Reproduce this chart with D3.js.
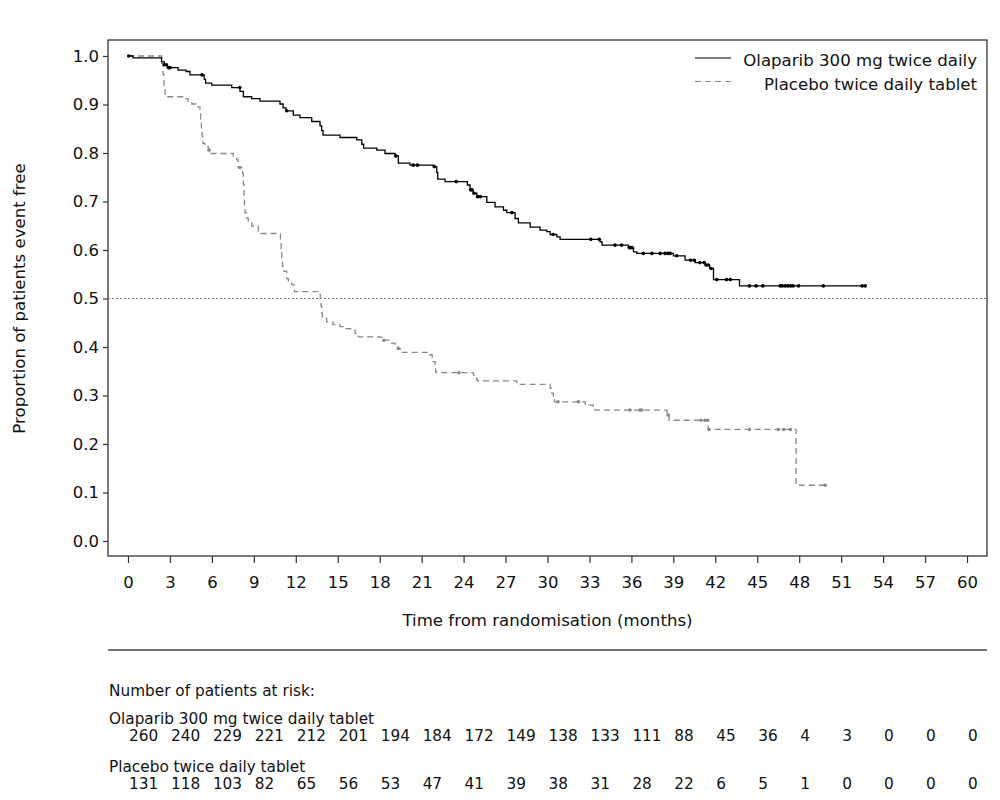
<!DOCTYPE html>
<html><head><meta charset="utf-8">
<script src="https://cdn.jsdelivr.net/npm/d3@7"></script>
<style>
body{margin:0;background:#fff}
text{font-family:"DejaVu Sans",Verdana,sans-serif;fill:#111}
</style></head>
<body><svg id="chart" width="1000" height="800"></svg>
<script>
// ---------------- data ----------------
const timeTicks = [0,3,6,9,12,15,18,21,24,27,30,33,36,39,42,45,48,51,54,57,60];
const propTicks = [0,0.1,0.2,0.3,0.4,0.5,0.6,0.7,0.8,0.9,1.0];
const seriesNames = ["Olaparib 300 mg twice daily","Placebo twice daily tablet"];
const riskLabels = ["Olaparib 300 mg twice daily tablet","Placebo twice daily tablet"];

const olaTimes = [0.36,2.4,2.6,2.8,3.58,4.15,4.43,5.45,5.55,5.99,7.42,8.01,8.25,8.85,9.44,10.87,11.09,11.3,11.82,12.3,13.14,13.73,13.85,13.95,15.16,16.36,16.72,16.85,17.79,18.38,19.1,19.33,20.17,21.85,22.08,22.15,22.67,24.27,24.46,24.68,24.94,25.66,26.25,26.85,27.09,27.68,27.92,28.76,29.47,29.95,30.19,30.67,30.9,33.76,33.9,35.79,36.15,36.39,39.0,39.84,40.56,41.27,41.6,41.87,43.73];
const olaSurv  = [0.996,0.988,0.982,0.976,0.971,0.968,0.961,0.952,0.944,0.940,0.935,0.927,0.916,0.912,0.907,0.901,0.893,0.887,0.878,0.873,0.865,0.856,0.846,0.837,0.832,0.827,0.818,0.810,0.806,0.799,0.794,0.779,0.775,0.772,0.760,0.746,0.741,0.734,0.724,0.717,0.710,0.698,0.689,0.682,0.677,0.665,0.656,0.647,0.641,0.638,0.632,0.627,0.622,0.617,0.610,0.605,0.596,0.593,0.588,0.579,0.574,0.569,0.562,0.539,0.526];
const olaCensor = [0.05,2.6,2.75,2.9,3.0,5.29,8.0,11.35,19.15,20.4,20.7,21.9,23.47,24.5,24.6,24.75,25.0,25.2,27.45,30.4,33.1,33.7,34.83,35.3,35.85,35.95,36.05,36.86,37.46,38.06,38.4,38.6,38.77,39.24,40.24,40.5,40.9,41.2,41.35,41.5,41.7,42.1,42.8,43.07,44.44,44.92,45.4,46.64,46.8,47.0,47.2,47.4,47.57,47.95,49.73,52.5,52.72];
const olaEnd = 52.8;

const plaTimes = [2.4,2.5,2.58,2.65,4.08,4.29,4.56,4.86,5.15,5.2,5.25,5.3,5.35,5.5,5.74,5.87,7.53,7.78,7.87,8.2,8.25,8.3,8.33,8.37,8.49,8.6,8.85,9.32,10.9,10.95,11.0,11.05,11.16,11.35,11.47,11.71,11.9,13.75,13.8,13.85,13.9,13.97,14.21,14.66,15.16,15.4,16.12,16.24,16.47,18.03,18.24,18.86,19.1,19.3,19.46,21.48,21.75,21.96,22.0,22.05,24.7,24.94,25.0,27.8,30.19,30.3,30.42,30.5,32.7,33.28,33.4,38.55,38.7,41.5,47.78];
const plaSurv  = [0.985,0.962,0.939,0.916,0.912,0.907,0.901,0.895,0.890,0.870,0.847,0.835,0.820,0.813,0.806,0.799,0.792,0.786,0.770,0.758,0.735,0.710,0.690,0.676,0.666,0.659,0.649,0.634,0.620,0.600,0.580,0.566,0.556,0.541,0.534,0.528,0.514,0.500,0.485,0.470,0.462,0.459,0.452,0.446,0.442,0.438,0.435,0.428,0.421,0.420,0.414,0.408,0.401,0.397,0.389,0.384,0.370,0.359,0.349,0.347,0.342,0.332,0.330,0.323,0.315,0.305,0.294,0.287,0.280,0.277,0.270,0.260,0.249,0.230,0.115];
const plaCensor = [5.8,8.0,18.3,19.33,23.67,30.75,32.22,35.9,36.62,36.74,38.62,40.98,41.26,41.45,41.55,44.44,46.5,46.88,47.37,49.86];
const plaEnd = 49.86;

const riskOla = [260,240,229,221,212,201,194,184,172,149,138,133,111,88,45,36,4,3,0,0,0];
const riskPla = [131,118,103,82,65,56,53,47,41,39,38,31,28,22,6,5,1,0,0,0,0];

// ---------------- layout ----------------
const svg = d3.select("#chart");
const frame = {left:108, right:987, top:40, bottom:556};
const x = d3.scaleLinear().domain([0,60]).range([128,967]);
const y = d3.scaleLinear().domain([0,1]).range([541,56]);

// frame
svg.append("rect").attr("x",frame.left).attr("y",frame.top)
  .attr("width",frame.right-frame.left).attr("height",frame.bottom-frame.top)
  .attr("fill","none").attr("stroke","#333").attr("stroke-width",1.3);

// y axis
const yAxis = svg.append("g").attr("transform",`translate(${frame.left},0)`)
  .call(d3.axisLeft(y).tickValues(propTicks).tickSize(5).tickPadding(4).tickFormat(d3.format(".1f")));
yAxis.select(".domain").remove();
yAxis.selectAll("line").attr("stroke","#333").attr("stroke-width",1.2);
yAxis.selectAll("text").style("font-size","16.5px").attr("fill","#111");

// x axis
const xAxis = svg.append("g").attr("transform",`translate(0,${frame.bottom})`)
  .call(d3.axisBottom(x).tickValues(timeTicks).tickSize(7).tickPadding(13).tickFormat(d3.format("d")));
xAxis.select(".domain").remove();
xAxis.selectAll("line").attr("stroke","#333").attr("stroke-width",1.2);
xAxis.selectAll("text").style("font-size","16.5px").attr("fill","#111");

// axis titles
svg.append("text").attr("x",(frame.left+frame.right)/2).attr("y",626)
  .attr("text-anchor","middle").style("font-size","16.6px").text("Time from randomisation (months)");
svg.append("text").attr("transform",`translate(25,${y(0.5)}) rotate(-90)`)
  .attr("text-anchor","middle").style("font-size","16.6px").text("Proportion of patients event free");

// median reference line
svg.append("line").attr("x1",frame.left).attr("x2",frame.right)
  .attr("y1",y(0.5)).attr("y2",y(0.5))
  .attr("stroke","#777").attr("stroke-width",1).attr("stroke-dasharray","2,2");

// KM curves
function kmPoints(times, surv, end){
  const pts = [[0,1]];
  times.forEach((t,i)=>pts.push([t,surv[i]]));
  pts.push([end, surv[surv.length-1]]);
  return pts;
}
function survAt(times, surv, t){
  const i = d3.bisectRight(times, t);
  return i===0 ? 1 : surv[i-1];
}
const line = d3.line().x(d=>x(d[0])).y(d=>y(d[1])).curve(d3.curveStepAfter);

const series = [
  {times:plaTimes, surv:plaSurv, censor:plaCensor, end:plaEnd, color:"#8a8a8a", dash:"6,4"},
  {times:olaTimes, surv:olaSurv, censor:olaCensor, end:olaEnd, color:"#000", dash:null}
];
series.forEach(s=>{
  svg.append("path").datum(kmPoints(s.times,s.surv,s.end))
    .attr("d",line).attr("fill","none").attr("stroke",s.color)
    .attr("stroke-width",1.3).attr("stroke-dasharray",s.dash);
  svg.append("g").selectAll("circle").data(s.censor).join("circle")
    .attr("cx",d=>x(d)).attr("cy",d=>y(survAt(s.times,s.surv,d)))
    .attr("r",1.8).attr("fill",s.color);
});

// legend
const leg = svg.append("g");
leg.append("line").attr("x1",695).attr("x2",731).attr("y1",58).attr("y2",58)
  .attr("stroke","#000").attr("stroke-width",1.2);
leg.append("line").attr("x1",695).attr("x2",735).attr("y1",81.5).attr("y2",81.5)
  .attr("stroke","#8a8a8a").attr("stroke-width",1.2).attr("stroke-dasharray","6,4");
leg.append("text").attr("x",977).attr("y",66).attr("text-anchor","end")
  .style("font-size","16.6px").text(seriesNames[0]);
leg.append("text").attr("x",977).attr("y",90).attr("text-anchor","end")
  .style("font-size","16.6px").text(seriesNames[1]);

// separator
svg.append("line").attr("x1",108).attr("x2",987).attr("y1",650).attr("y2",650)
  .attr("stroke","#444").attr("stroke-width",1.3);

// at-risk table
const rt = svg.append("g").style("font-size","15.3px");
rt.append("text").attr("x",109).attr("y",696).text("Number of patients at risk:");
rt.append("text").attr("x",109).attr("y",724).text(riskLabels[0]);
rt.append("text").attr("x",109).attr("y",772).text(riskLabels[1]);
rt.append("g").selectAll("text").data(riskOla).join("text")
  .attr("x",(d,i)=>x(timeTicks[i])+1).attr("y",741).text(d=>d);
rt.append("g").selectAll("text").data(riskPla).join("text")
  .attr("x",(d,i)=>x(timeTicks[i])+1).attr("y",789).text(d=>d);
</script></body></html>
